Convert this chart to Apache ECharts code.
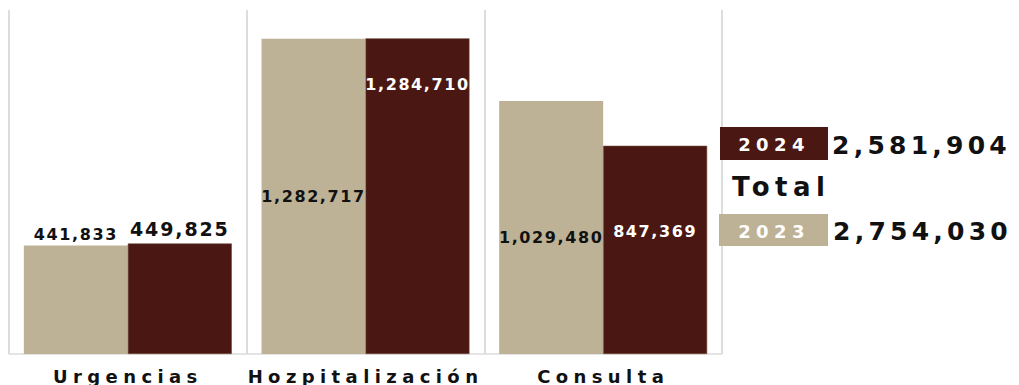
<!DOCTYPE html>
<html>
<head>
<meta charset="utf-8">
<script src="https://cdn.jsdelivr.net/npm/echarts@6/dist/echarts.min.js"></script>
<style>
  html, body { margin: 0; padding: 0; background: #ffffff; }
  #chart { width: 1019px; height: 385px; }
  /* wide, tracked lettering for all chart texts */
  #chart text { letter-spacing: 0.1em; }
  #chart text[style*="18px"] { letter-spacing: 0.3em; }
  #chart text[style*="25px"] { letter-spacing: 0.17em; }
  #chart text[style*="26px"] { letter-spacing: 0.21em; }
</style>
</head>
<body>
<div id="chart"></div>
<script>
// Atenciones por servicio, 2023 vs 2024
const categories = ['Urgencias', 'Hozpitalización', 'Consulta'];
const years = ['2023', '2024'];
const values2023 = [441833, 1282717, 1029480];
const values2024 = [449825, 1284710, 847369];

const colors = { '2023': '#bdb196', '2024': '#4a1713' };
const FONT = '"DejaVu Sans", sans-serif';

const sum = arr => arr.reduce((a, b) => a + b, 0);
const fmt = v => v.toLocaleString('en-US');
const total2023 = sum(values2023);
const total2024 = sum(values2024);

// where each value label sits on its bar
const labelStyle2023 = [
  { position: 'top', distance: 3, fontSize: 16, color: '#111' },
  { position: ['50%', '50%'], verticalAlign: 'middle', fontSize: 16, color: '#111' },
  { position: ['50%', '54%'], verticalAlign: 'middle', fontSize: 16, color: '#111' }
];
const labelStyle2024 = [
  { position: 'top', distance: 5, fontSize: 19, color: '#111' },
  { position: ['50%', '14.5%'], verticalAlign: 'middle', fontSize: 16, color: '#ffffff' },
  { position: ['50%', '41%'], verticalAlign: 'middle', fontSize: 16, color: '#ffffff' }
];

function buildData(values, styles) {
  return values.map((v, i) => ({
    value: v,
    label: Object.assign({
      show: true,
      align: 'center',
      fontWeight: 'bold',
      fontFamily: FONT,
      formatter: p => fmt(p.value)
    }, styles[i])
  }));
}

const chart = echarts.init(document.getElementById('chart'), null, { renderer: 'svg' });

chart.setOption({
  animation: false,
  backgroundColor: '#ffffff',
  grid: { left: 9, right: 297, top: 10, bottom: 31 },
  xAxis: {
    type: 'category',
    data: categories,
    axisLine: { show: true, lineStyle: { color: '#dcdcdc', width: 1.5 } },
    axisTick: { show: false },
    splitLine: { show: true, lineStyle: { color: '#dcdcdc', width: 2 } },
    axisLabel: {
      margin: 13,
      color: '#111',
      fontSize: 18,
      fontWeight: 'bold',
      fontFamily: FONT
    }
  },
  yAxis: {
    type: 'value',
    min: 0,
    max: 1400000,
    show: false,
    splitLine: { show: false }
  },
  series: [
    {
      name: years[0],
      type: 'bar',
      data: buildData(values2023, labelStyle2023),
      itemStyle: { color: colors['2023'] },
      barGap: '0%',
      barCategoryGap: '12.5%'
    },
    {
      name: years[1],
      type: 'bar',
      data: buildData(values2024, labelStyle2024),
      itemStyle: { color: colors['2024'], borderColor: '#6b4a38', borderWidth: 0.6 },
      barGap: '0%',
      barCategoryGap: '12.5%'
    }
  ],
  graphic: [
    { type: 'rect', shape: { x: 720, y: 127, width: 108, height: 33 }, style: { fill: colors['2024'] }, z: 10 },
    { type: 'text', x: 774, y: 144, z: 11,
      style: { text: years[1], fill: '#ffffff', font: 'bold 18px ' + FONT, align: 'center', verticalAlign: 'middle' } },
    { type: 'text', x: 832, y: 145, z: 11,
      style: { text: fmt(total2024), fill: '#111', font: 'bold 25px ' + FONT, align: 'left', verticalAlign: 'middle' } },
    { type: 'text', x: 732, y: 187, z: 11,
      style: { text: 'Total', fill: '#111', font: 'bold 26px ' + FONT, align: 'left', verticalAlign: 'middle' } },
    { type: 'rect', shape: { x: 719, y: 214, width: 109, height: 32 }, style: { fill: colors['2023'] }, z: 10 },
    { type: 'text', x: 774, y: 231, z: 11,
      style: { text: years[0], fill: '#ffffff', font: 'bold 18px ' + FONT, align: 'center', verticalAlign: 'middle' } },
    { type: 'text', x: 833, y: 231, z: 11,
      style: { text: fmt(total2023), fill: '#111', font: 'bold 25px ' + FONT, align: 'left', verticalAlign: 'middle' } }
  ]
});
</script>
</body>
</html>
